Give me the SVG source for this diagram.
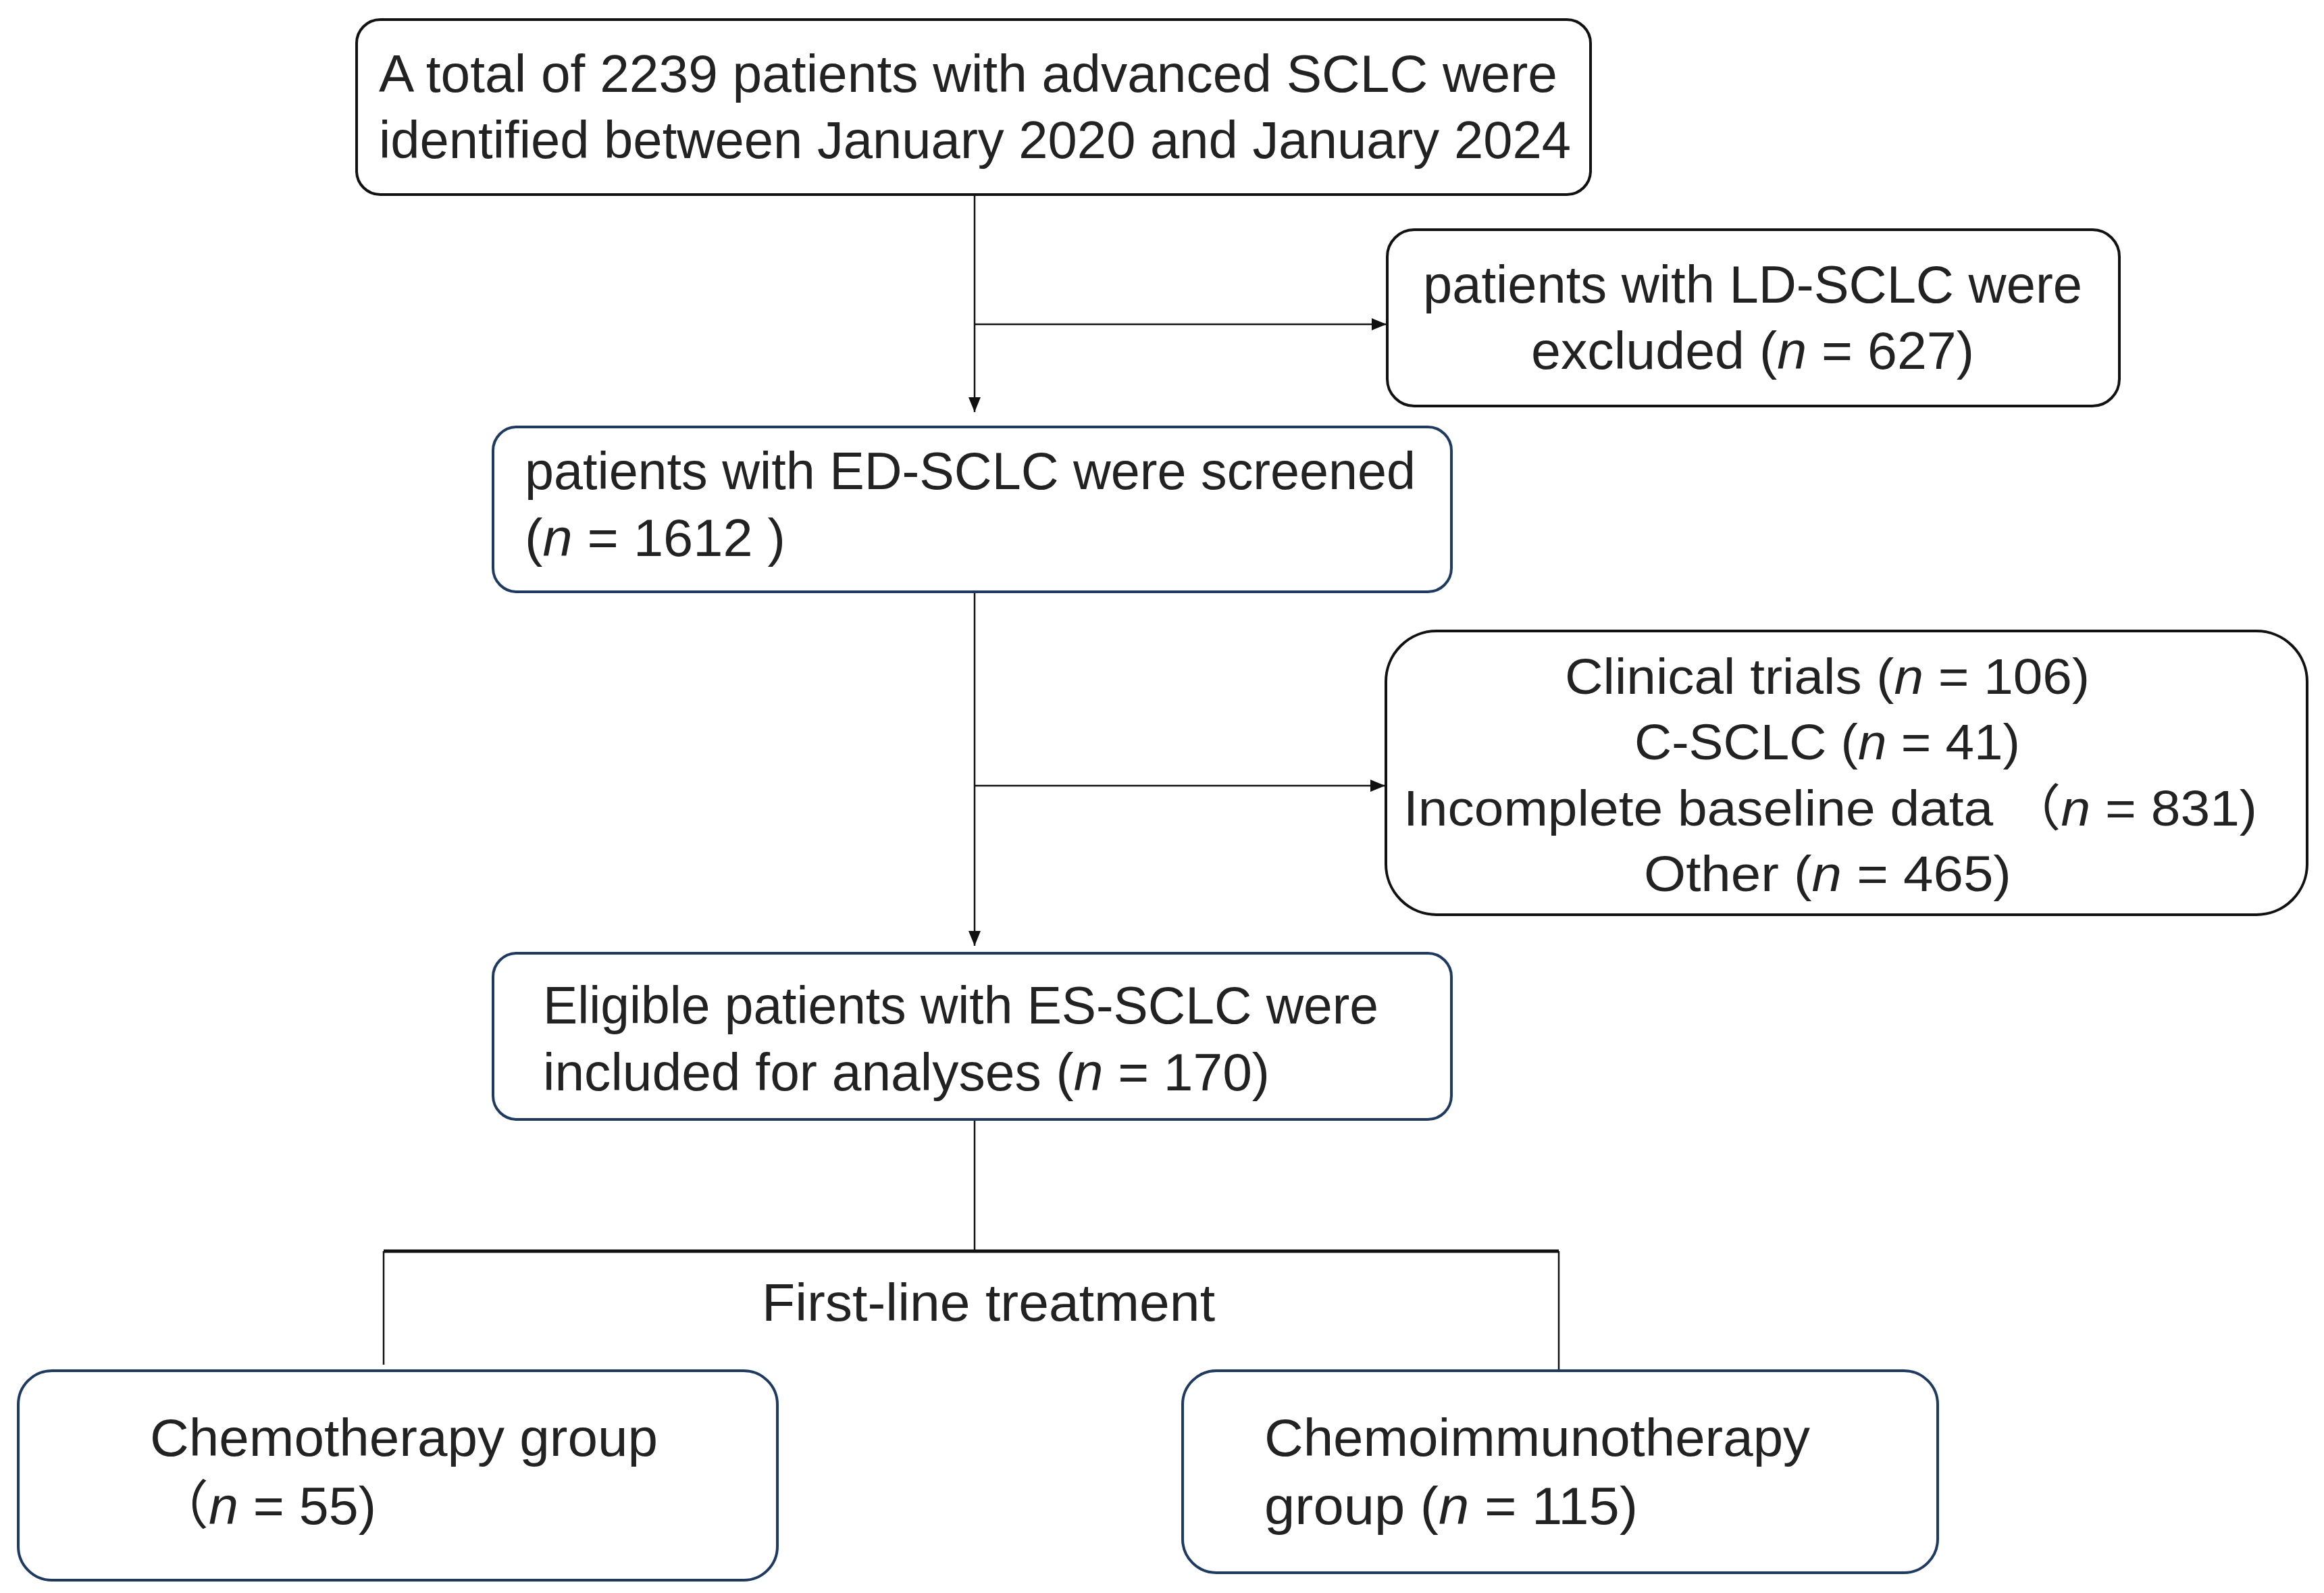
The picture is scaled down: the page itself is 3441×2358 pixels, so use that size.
<svg xmlns="http://www.w3.org/2000/svg" width="3441" height="2358" viewBox="0 0 3441 2358">
<style>
.box{fill:#fff;stroke-width:4}
.blk{stroke:#111}
.nav{stroke:#1f3a60}
.t{font-family:"Liberation Sans","Noto Sans CJK SC",sans-serif;font-size:78px;fill:#222}
.s{font-size:74px}
.i{font-style:italic}
.ln{stroke:#111;stroke-width:2.5;fill:none}
.thk{stroke:#111;stroke-width:5;fill:none}
</style>
<defs>
<marker id="ah" markerUnits="userSpaceOnUse" markerWidth="24" markerHeight="18" refX="22" refY="9" orient="auto">
<path d="M0,0 L22,9 L0,18 Z" fill="#111"/>
</marker>
</defs>
<rect width="3441" height="2358" fill="#fff"/>
<g id="connectors">
<line class="ln" x1="1443" y1="288" x2="1443" y2="610" marker-end="url(#ah)"/>
<line class="ln" x1="1443" y1="480" x2="2053" y2="480" stroke-width="4" marker-end="url(#ah)"/>
<line class="ln" x1="1443" y1="876" x2="1443" y2="1400" marker-end="url(#ah)"/>
<line class="ln" x1="1443" y1="1163" x2="2051" y2="1163" marker-end="url(#ah)"/>
<line class="ln" x1="1443" y1="1657" x2="1443" y2="1852"/>
<line class="thk" x1="568" y1="1852" x2="2308" y2="1852"/>
<line class="ln" x1="568" y1="1852" x2="568" y2="2020"/>
<line class="ln" x1="2308" y1="1852" x2="2308" y2="2029"/>
</g>
<g id="n1">
<rect class="box blk" x="528" y="29" width="1827" height="259" rx="35"/>
<text class="t" x="561" y="136" textLength="1745" lengthAdjust="spacingAndGlyphs">A total of 2239 patients with advanced SCLC were</text>
<text class="t" x="561" y="234" textLength="1765" lengthAdjust="spacingAndGlyphs">identified between January 2020 and January 2024</text>
</g>
<g id="n2">
<rect class="box blk" x="2054" y="340" width="1084" height="261" rx="40"/>
<text class="t" x="2107" y="448" textLength="976" lengthAdjust="spacingAndGlyphs">patients with LD-SCLC were</text>
<text class="t" x="2267" y="546" textLength="656" lengthAdjust="spacingAndGlyphs">excluded (<tspan class="i">n</tspan> = 627)</text>
</g>
<g id="n3">
<rect class="box nav" x="730" y="632" width="1419" height="244" rx="35"/>
<text class="t" x="777" y="724" textLength="1319" lengthAdjust="spacingAndGlyphs">patients with ED-SCLC were screened</text>
<text class="t" x="777" y="823" textLength="386" lengthAdjust="spacingAndGlyphs">(<tspan class="i">n</tspan> = 1612 )</text>
</g>
<g id="n4">
<rect class="box blk" x="2052" y="934" width="1364" height="420" rx="75"/>
<text class="t s" x="2317" y="1027" textLength="777" lengthAdjust="spacingAndGlyphs">Clinical trials (<tspan class="i">n</tspan> = 106)</text>
<text class="t s" x="2420" y="1124" textLength="571" lengthAdjust="spacingAndGlyphs">C-SCLC (<tspan class="i">n</tspan> = 41)</text>
<text class="t s" x="2078" y="1222" textLength="1264" lengthAdjust="spacingAndGlyphs">Incomplete baseline data （<tspan class="i">n</tspan> = 831)</text>
<text class="t s" x="2434" y="1319" textLength="544" lengthAdjust="spacingAndGlyphs">Other (<tspan class="i">n</tspan> = 465)</text>
</g>
<g id="n5">
<rect class="box nav" x="730" y="1411" width="1419" height="246" rx="35"/>
<text class="t" x="804" y="1515" textLength="1237" lengthAdjust="spacingAndGlyphs">Eligible patients with ES-SCLC were</text>
<text class="t" x="804" y="1614" textLength="1076" lengthAdjust="spacingAndGlyphs">included for analyses (<tspan class="i">n</tspan> = 170)</text>
</g>
<g id="label">
<text class="t" x="1128" y="1955" textLength="671" lengthAdjust="spacingAndGlyphs">First-line treatment</text>
</g>
<g id="n6">
<rect class="box nav" x="27" y="2029" width="1124" height="310" rx="50"/>
<text class="t" x="222" y="2155" textLength="752" lengthAdjust="spacingAndGlyphs">Chemotherapy group</text>
<text class="t" x="230" y="2256" textLength="327" lengthAdjust="spacingAndGlyphs">（<tspan class="i">n</tspan> = 55)</text>
</g>
<g id="n7">
<rect class="box nav" x="1751" y="2029" width="1118" height="299" rx="50"/>
<text class="t" x="1872" y="2155" textLength="808" lengthAdjust="spacingAndGlyphs">Chemoimmunotherapy</text>
<text class="t" x="1872" y="2256" textLength="553" lengthAdjust="spacingAndGlyphs">group (<tspan class="i">n</tspan> = 115)</text>
</g>
</svg>
